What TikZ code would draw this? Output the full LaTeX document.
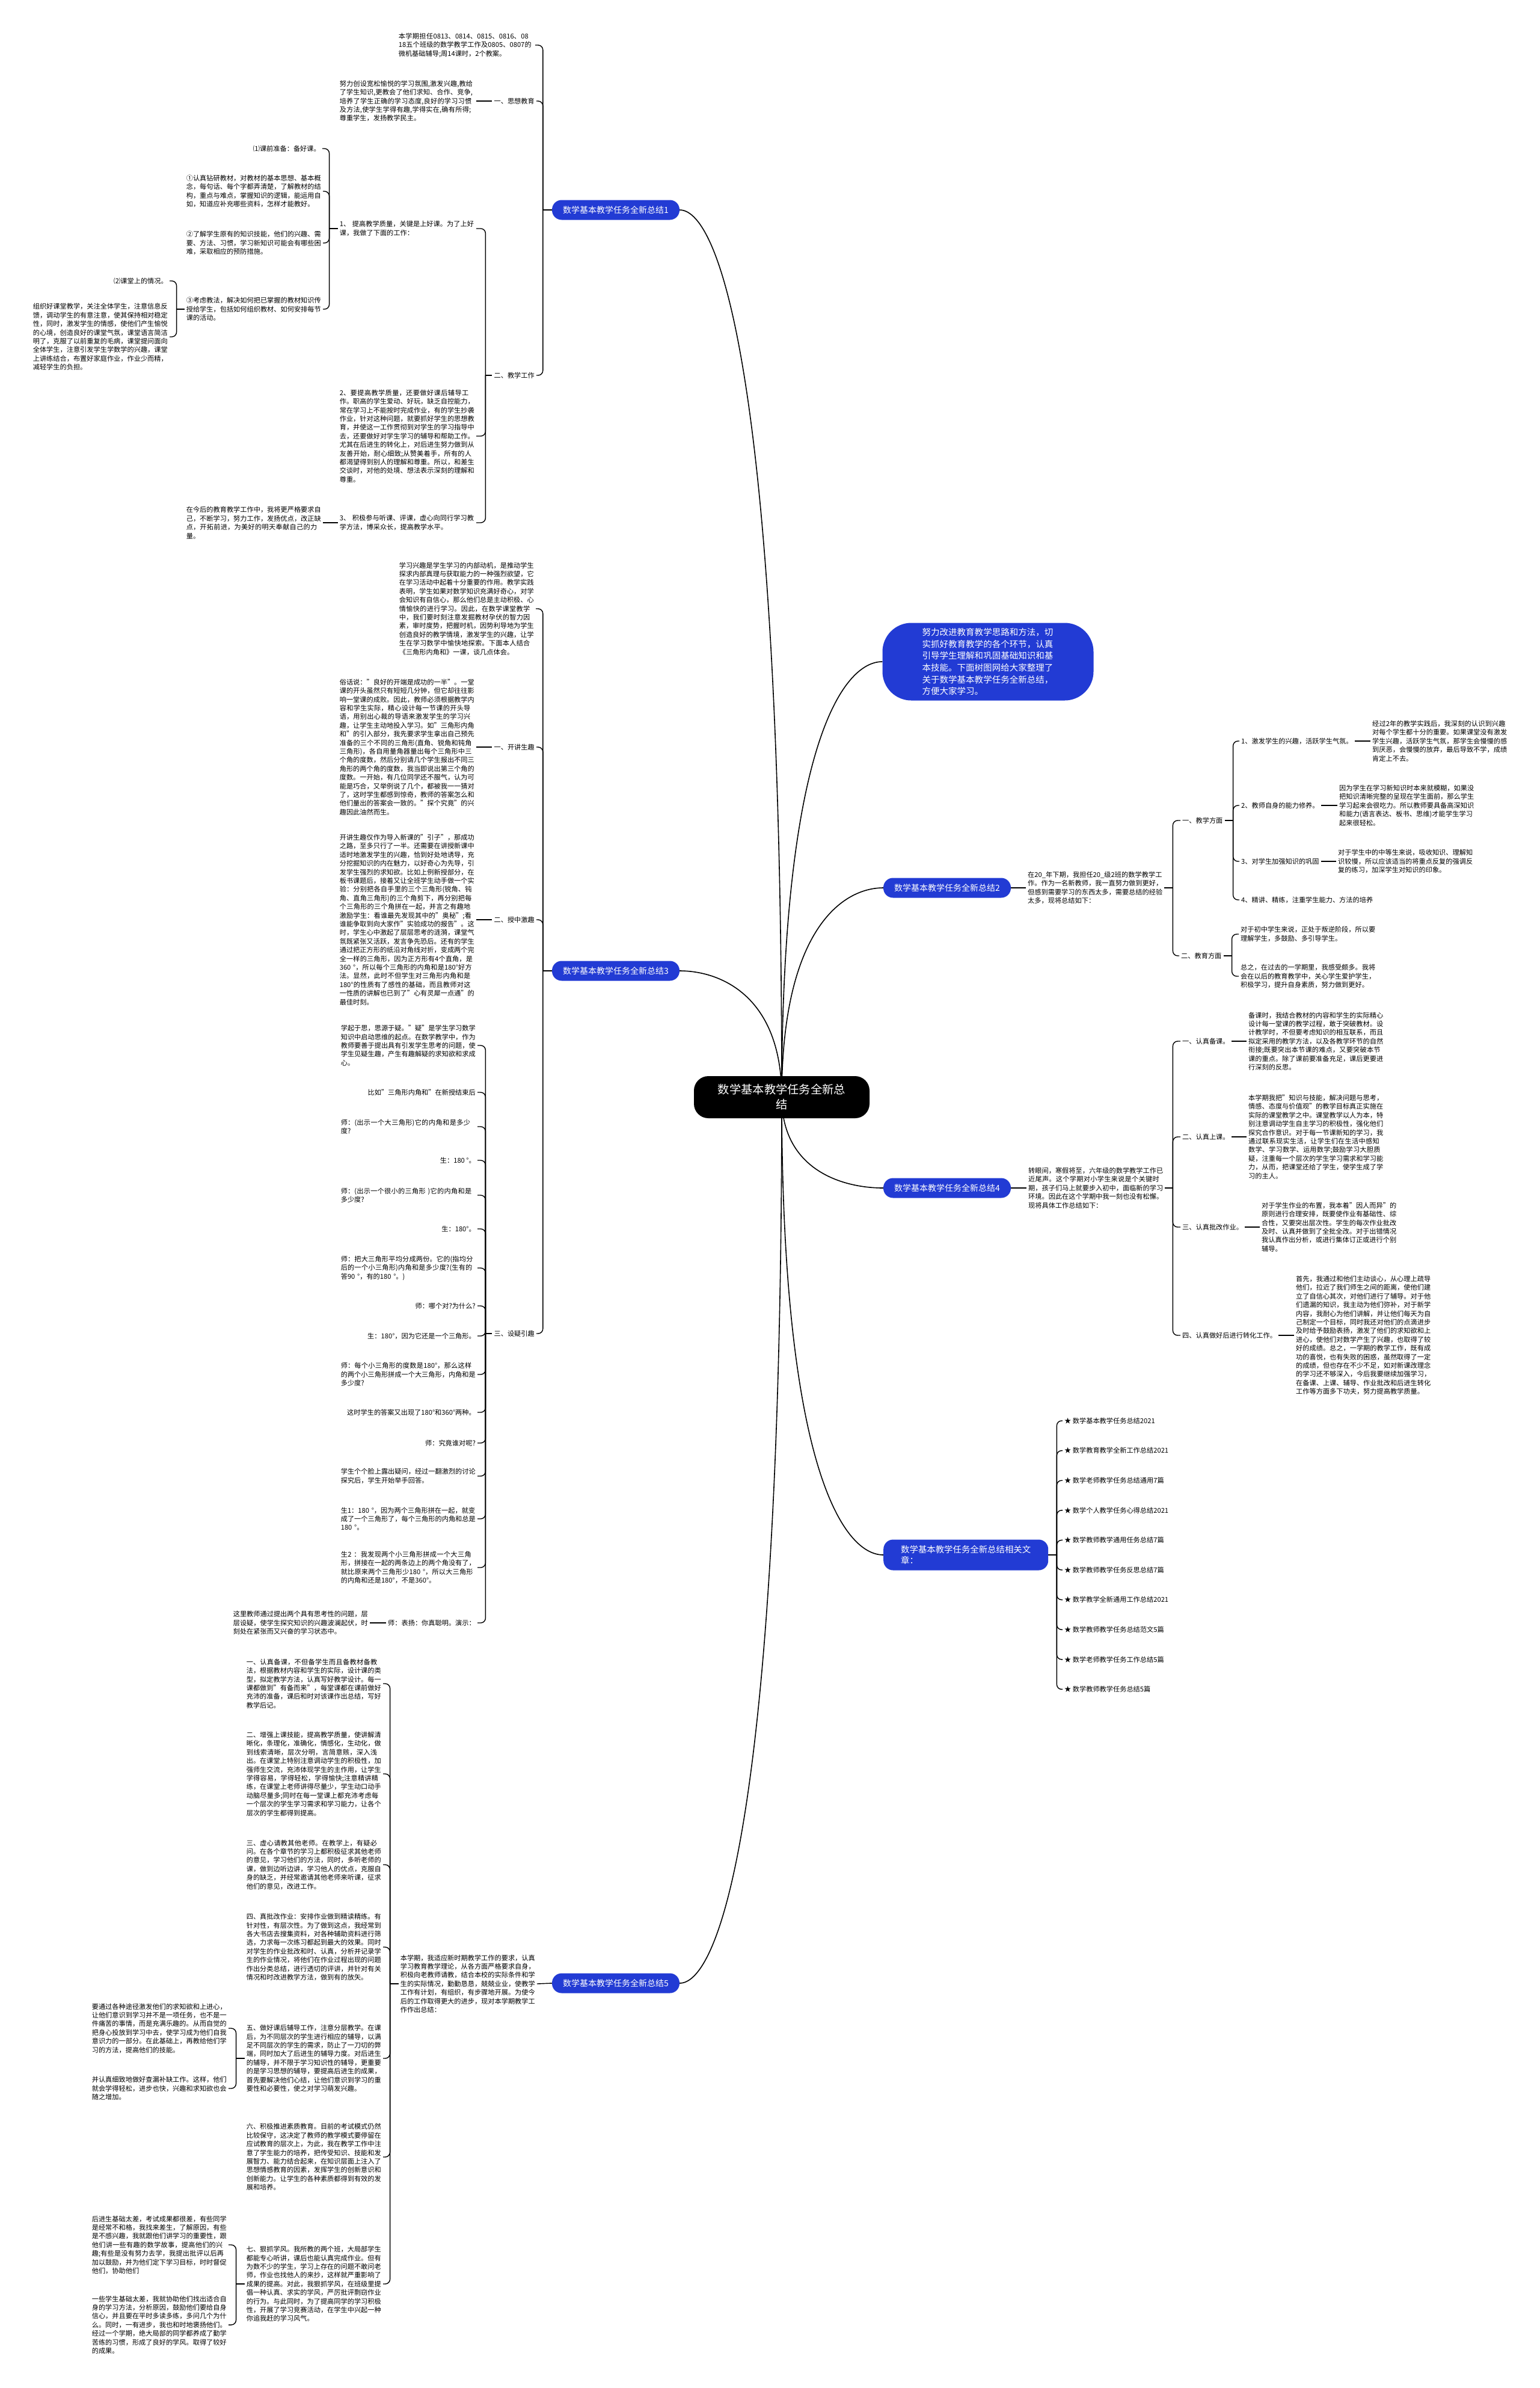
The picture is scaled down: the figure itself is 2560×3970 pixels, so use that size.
\documentclass[tikz,border=0pt]{standalone}
\usepackage{fontspec}
\setmainfont{Noto Sans CJK SC}
\XeTeXlinebreaklocale "zh"
\XeTeXlinebreakskip=0pt plus 1pt
\usetikzlibrary{backgrounds}
\definecolor{mapblue}{RGB}{34,59,212}
\newcommand\mapbody{\fontsize{11.2}{14.4}\selectfont}
\tikzset{
  % the central topic
  hub/.style    = {fill=black, text=white, rounded corners=24pt, minimum width=292pt, minimum height=70pt, align=center, font=\fontsize{19.3}{25}\selectfont},
  % a first-level summary node
  branch/.style = {fill=mapblue, text=white, rounded corners=16pt, minimum width=212pt, minimum height=33pt, inner sep=0pt, font=\fontsize{14}{17}\selectfont},
  % the blue introduction box
  note/.style   = {fill=mapblue, text=white, rounded corners=48pt, text width=219pt, inner xsep=66pt, minimum height=129pt, align=left, font=\fontsize{14.5}{19.7}\selectfont},
  % a block of running text
  para/.style   = {text width=224pt, align=left, inner xsep=3pt, inner ysep=1pt, font=\mapbody},
  % a short one-line item
  tag/.style    = {inner xsep=3pt, inner ysep=1pt, font=\mapbody},
  % connectors
  trunk/.style  = {line width=1.6pt},
  link/.style   = {line width=1.4pt, rounded corners=8pt},
}

\begin{document}
\begin{tikzpicture}[x=1pt,y=-1pt]
\useasboundingbox (0,0) rectangle (2560,3970);

% centre and intro
\node[hub] (hub) at (1300,1824) {数学基本教学任务全新总\\结};
\node[note] (intro) at (1643,1100) {努力改进教育教学思路和方法，切实抓好教育教学的各个环节，认真引导学生理解和巩固基础知识和基本技能。下面树图网给大家整理了关于数学基本教学任务全新总结，方便大家学习。};

% ---- summary 1 ----
\node[branch] (s1) at (1024,349) {数学基本教学任务全新总结1};
\node[para,anchor=east] (n1a) at (890,75) {本学期担任0813、0814、0815、0816、08\allowbreak 18五个班级的数学教学工作及0805、0807的微机基础辅导;周14课时，2个教案。};
\node[tag,anchor=east] (n1b) at (892,168) {一、思想教育};
\node[para,anchor=east] (n1b1) at (792,168) {努力创设宽松愉悦的学习氛围,激发兴趣,教给了学生知识,更教会了他们求知、合作、竞争,培养了学生正确的学习态度,良好的学习习惯及方法,使学生学得有趣,学得实在,确有所得;尊重学生，发扬教学民主。};
\node[tag,anchor=east] (n1c) at (892,624) {二、教学工作};
\node[para,anchor=east] (n1c1) at (792,380) {1、 提高教学质量，关键是上好课。为了上好课，我做了下面的工作：};
\node[tag,anchor=east] (n1c1a) at (536,247) {⑴课前准备：备好课。};
\node[para,anchor=east] (n1c1b) at (537,318) {①认真钻研教材，对教材的基本思想、基本概念，每句话、每个字都弄清楚，了解教材的结构，重点与难点，掌握知识的逻辑，能运用自如，知道应补充哪些资料，怎样才能教好。};
\node[para,anchor=east] (n1c1c) at (537,404) {②了解学生原有的知识技能，他们的兴趣、需要、方法、习惯，学习新知识可能会有哪些困难，采取相应的预防措施。};
\node[para,anchor=east] (n1c1d) at (537,514) {③考虑教法，解决如何把已掌握的教材知识传授给学生，包括如何组织教材、如何安排每节课的活动。};
\node[tag,anchor=east] (n1c1d1) at (282,467) {⑵课堂上的情况。};
\node[para,anchor=east] (n1c1d2) at (282,560) {组织好课堂教学，关注全体学生，注意信息反馈，调动学生的有意注意，使其保持相对稳定性，同时，激发学生的情感，使他们产生愉悦的心境，创造良好的课堂气氛，课堂语言简洁明了，克服了以前重复的毛病，课堂提问面向全体学生，注意引发学生学数学的兴趣，课堂上讲练结合，布置好家庭作业，作业少而精，减轻学生的负担。};
\node[para,anchor=east] (n1c2) at (792,725) {2、要提高教学质量，还要做好课后辅导工作。职高的学生爱动、好玩，缺乏自控能力，常在学习上不能按时完成作业，有的学生抄袭作业，针对这种问题，就要抓好学生的思想教育，并使这一工作贯彻到对学生的学习指导中去，还要做好对学生学习的辅导和帮助工作。尤其在后进生的转化上，对后进生努力做到从友善开始，耐心细致;从赞美着手，所有的人都渴望得到别人的理解和尊重。所以，和差生交谈时，对他的处境、想法表示深刻的理解和尊重。};
\node[para,anchor=east] (n1c3) at (792,869) {3、 积极参与听课、评课，虚心向同行学习教学方法，博采众长，提高教学水平。};
\node[para,anchor=east] (n1c3a) at (537,869) {在今后的教育教学工作中，我将更严格要求自己，不断学习，努力工作，发扬优点，改正缺点，开拓前进，为美好的明天奉献自己的力量。};

% ---- summary 3 ----
\node[branch] (s3) at (1024,1614) {数学基本教学任务全新总结3};
\node[para,anchor=east] (n3a) at (891,1012) {学习兴趣是学生学习的内部动机，是推动学生探求内部真理与获取能力的一种强烈欲望，它在学习活动中起着十分重要的作用。教学实践表明，学生如果对数学知识充满好奇心，对学会知识有自信心，那么他们总是主动积极、心情愉快的进行学习。因此，在数学课堂教学中，我们要时刻注意发掘教材孕伏的智力因素，审时度势，把握时机，因势利导地为学生创造良好的教学情境，激发学生的兴趣，让学生在学习数学中愉快地探索。下面本人结合《三角形内角和》一课，谈几点体会。};
\node[tag,anchor=east] (n3b) at (892,1242) {一、开讲生趣};
\node[para,anchor=east] (n3b1) at (792,1242) {俗话说："良好的开端是成功的一半"。一堂课的开头虽然只有短短几分钟，但它却往往影响一堂课的成败。因此，教师必须根据教学内容和学生实际，精心设计每一节课的开头导语，用别出心裁的导语来激发学生的学习兴趣，让学生主动地投入学习。如"三角形内角和"的引入部分，我先要求学生拿出自己预先准备的三个不同的三角形(直角、锐角和钝角三角形)，各自用量角器量出每个三角形中三个角的度数，然后分别请几个学生报出不同三角形的两个角的度数，我当即说出第三个角的度数。一开始，有几位同学还不服气，认为可能是巧合，又举例说了几个，都被我一一猜对了，这时学生都感到惊奇，教师的答案怎么和他们量出的答案会一致的。"探个究竟"的兴趣因此油然而生。};
\node[tag,anchor=east] (n3c) at (892,1529) {二、授中激趣};
\node[para,anchor=east] (n3c1) at (792,1529) {开讲生趣仅作为导入新课的"引子"，那成功之路，至多只行了一半。还需要在讲授新课中适时地激发学生的兴趣，恰到好处地诱导，充分挖掘知识的内在魅力，以好奇心为先导，引发学生强烈的求知欲。比如上例新授部分，在板书课题后，接着又让全班学生动手做一个实验：分别把各自手里的三个三角形(锐角、钝角、直角三角形)的三个角剪下，再分别把每个三角形的三个角拼在一起，并言之有趣地激励学生：看谁最先发现其中的"奥秘";看谁能争取到向大家作"实验成功的报告"。这时，学生心中激起了层层思考的涟漪，课堂气氛既紧张又活跃，发言争先恐后。还有的学生通过把正方形的纸沿对角线对折，变成两个完全一样的三角形，因为正方形有4个直角，是360 °，所以每个三角形的内角和是180°好方法。显然，此时不但学生对三角形内角和是180°的性质有了感性的基础，而且教师对这一性质的讲解也已到了"心有灵犀一点通"的最佳时刻。};
\node[tag,anchor=east] (n3d) at (892,2217) {三、设疑引趣};
\node[para,anchor=east] (d1) at (794,1738) {学起于思，思源于疑。"疑"是学生学习数学知识中启动思维的起点。在数学教学中，作为教师要善于提出具有引发学生思考的问题，使学生见疑生趣，产生有趣解疑的求知欲和求成心。};
\node[tag,anchor=east] (d2) at (794,1816) {比如"三角形内角和"在新授结束后};
\node[para,anchor=east] (d3) at (794,1873) {师：(出示一个大三角形)它的内角和是多少度?};
\node[tag,anchor=east] (d4) at (794,1929) {生：180 °。};
\node[para,anchor=east] (d5) at (794,1987) {师：(出示一个很小的三角形 )它的内角和是多少度?};
\node[tag,anchor=east] (d6) at (794,2043) {生：180°。};
\node[para,anchor=east] (d7) at (794,2108) {师：把大三角形平均分成两份。它的(指均分后的一个小三角形)内角和是多少度?(生有的答90 °，有的180 °。)};
\node[tag,anchor=east] (d8) at (794,2171) {师：哪个对?为什么?};
\node[tag,anchor=east] (d9) at (794,2221) {生：180°，因为它还是一个三角形。};
\node[para,anchor=east] (d10) at (794,2285) {师：每个小三角形的度数是180°，那么这样的两个小三角形拼成一个大三角形，内角和是多少度?};
\node[tag,anchor=east] (d11) at (794,2348) {这时学生的答案又出现了180°和360°两种。};
\node[tag,anchor=east] (d12) at (794,2399) {师：究竟谁对呢?};
\node[para,anchor=east] (d13) at (794,2454) {学生个个脸上露出疑问，经过一翻激烈的讨论探究后，学生开始举手回答。};
\node[para,anchor=east] (d14) at (794,2525) {生1：180 °，因为两个三角形拼在一起，就变成了一个三角形了，每个三角形的内角和总是180 °。};
\node[para,anchor=east] (d15) at (794,2606) {生2 ：我发现两个小三角形拼成一个大三角形，拼接在一起的两条边上的两个角没有了，就比原来两个三角形少180 °，所以大三角形的内角和还是180°，不是360°。};
\node[tag,anchor=east] (d16) at (794,2698) {师：表扬：你真聪明。演示：};
\node[para,anchor=east] (d16a) at (615,2698) {这里教师通过提出两个具有思考性的问题，层层设疑，使学生探究知识的兴趣波澜起伏，时刻处在紧张而又兴奋的学习状态中。};

% ---- summary 5 ----
\node[branch] (s5) at (1024,3297) {数学基本教学任务全新总结5};
\node[para,anchor=east] (n5a) at (893,3298) {本学期，我适应新时期教学工作的要求，认真学习教育教学理论，从各方面严格要求自身，积极向老教师请教，结合本校的实际条件和学生的实际情况，勤勤恳恳，兢兢业业，使教学工作有计划，有组织，有步骤地开展。为使今后的工作取得更大的进步，现对本学期教学工作作出总结：};
\node[para,anchor=east] (e1) at (637,2799) {一、认真备课，不但备学生而且备教材备教法，根据教材内容和学生的实际，设计课的类型，拟定教学方法，认真写好教学设计。每一课都做到"有备而来"，每堂课都在课前做好充沛的准备，课后和时对该课作出总结，写好教学后记。};
\node[para,anchor=east] (e2) at (637,2949) {二、增强上课技能，提高教学质量，使讲解清晰化，条理化，准确化，情感化，生动化，做到线索清晰，层次分明，言简意赅，深入浅出。在课堂上特别注意调动学生的积极性，加强师生交流，充沛体现学生的主作用，让学生学得容易，学得轻松，学得愉快;注意精讲精练，在课堂上老师讲得尽量少，学生动口动手动脑尽量多;同时在每一堂课上都充沛考虑每一个层次的学生学习需求和学习能力，让各个层次的学生都得到提高。};
\node[para,anchor=east] (e3) at (637,3100) {三、虚心请教其他老师。在教学上，有疑必问。在各个章节的学习上都积极征求其他老师的意见，学习他们的方法，同时，多听老师的课，做到边听边讲，学习他人的优点，克服自身的缺乏，并经常邀请其他老师来听课，征求他们的意见，改进工作。};
\node[para,anchor=east] (e4) at (637,3237) {四、真批改作业：安排作业做到精读精练。有针对性，有层次性。为了做到这点，我经常到各大书店去搜集资料，对各种辅助资料进行筛选，力求每一次练习都起到最大的效果。同时对学生的作业批改和时、认真，分析并记录学生的作业情况，将他们在作业过程出现的问题作出分类总结，进行透切的评讲，并针对有关情况和时改进教学方法，做到有的放矢。};
\node[para,anchor=east] (e5) at (637,3422) {五、做好课后辅导工作，注意分层教学。在课后，为不同层次的学生进行相应的辅导，以满足不同层次的学生的需求，防止了一刀切的弊端，同时加大了后进生的辅导力度。对后进生的辅导，并不限于学习知识性的辅导，更重要的是学习思想的辅导，要提高后进生的成果，首先要解决他们心结，让他们意识到学习的重要性和必要性，使之对学习萌发兴趣。};
\node[para,anchor=east] (e5a) at (380,3372) {要通过各种途径激发他们的求知欲和上进心，让他们意识到学习并不是一项任务，也不是一件痛苦的事情，而是充满乐趣的。从而自觉的把身心投放到学习中去，使学习成为他们自我意识力的一部分。在此基础上，再教给他们学习的方法，提高他们的技能。};
\node[para,anchor=east] (e5b) at (380,3472) {并认真细致地做好查漏补缺工作。这样，他们就会学得轻松，进步也快，兴趣和求知欲也会随之增加。};
\node[para,anchor=east] (e6) at (637,3586) {六、积极推进素质教育。目前的考试模式仍然比较保守，这决定了教师的教学模式要停留在应试教育的层次上，为此，我在教学工作中注意了学生能力的培养，把传受知识、技能和发展智力、能力结合起来，在知识层面上注入了思想情感教育的因素，发挥学生的创新意识和创新能力。让学生的各种素质都得到有效的发展和培养。};
\node[para,anchor=east] (e7) at (637,3797) {七、狠抓学风。我所教的两个班，大局部学生都能专心听讲，课后也能认真完成作业。但有为数不少的学生，学习上存在的问题不敢问老师，作业也找他人的来抄，这样就严重影响了成果的提高。对此，我狠抓学风，在班级里提倡一种认真、求实的学风，严厉批评剽窃作业的行为。与此同时，为了提高同学的学习积极性，开展了学习竞赛活动，在学生中兴起一种你追我赶的学习风气。};
\node[para,anchor=east] (e7a) at (380,3732) {后进生基础太差，考试成果都很差，有些同学是经常不和格，我找来差生，了解原因，有些是不感兴趣，我就跟他们讲学习的重要性，跟他们讲一些有趣的数学故事，提高他们的兴趣;有些是没有努力去学，我提出批评以后再加以鼓励，并为他们定下学习目标，时时督促他们，协助他们};
\node[para,anchor=east] (e7b) at (380,3865) {一些学生基础太差，我就协助他们找出适合自身的学习方法，分析原因，鼓励他们要给自身信心，并且要在平时多读多练，多问几个为什么。同时，一有进步，我也和时地褒扬他们。经过一个学期，绝大局部的同学都养成了勤学苦练的习惯，形成了良好的学风。取得了较好的成果。};

% ---- summary 2 ----
\node[branch] (s2) at (1575,1476) {数学基本教学任务全新总结2};
\node[para,anchor=west] (n2a) at (1706,1476) {在20\_年下期，我担任20\_级2班的数学教学工作。作为一名新教师，我一直努力做到更好，但感到需要学习的东西太多，需要总结的经验太多，现将总结如下：};
\node[tag,anchor=west] (n2b) at (1963,1364) {一、教学方面};
\node[tag,anchor=west] (n2b1) at (2061,1232) {1、激发学生的兴趣，活跃学生气氛。};
\node[para,anchor=west] (n2b1a) at (2279,1232) {经过2年的教学实践后，我深刻的认识到兴趣对每个学生都十分的重要。如果课堂没有激发学生兴趣，活跃学生气氛，那学生会慢慢的感到厌恶，会慢慢的放弃，最后导致不学，成绩肯定上不去。};
\node[tag,anchor=west] (n2b2) at (2061,1339) {2、教师自身的能力修养。};
\node[para,anchor=west] (n2b2a) at (2224,1339) {因为学生在学习新知识时本来就模糊，如果没把知识清晰完整的呈现在学生面前，那么学生学习起来会很吃力。所以教师要具备高深知识和能力(语言表达、板书、思维)才能学生学习起来很轻松。};
\node[tag,anchor=west] (n2b3) at (2061,1432) {3、对学生加强知识的巩固};
\node[para,anchor=west] (n2b3a) at (2222,1432) {对于学生中的中等生来说，吸收知识、理解知识较慢，所以应该适当的将重点反复的强调反复的练习，加深学生对知识的印象。};
\node[tag,anchor=west] (n2b4) at (2061,1496) {4、精讲、精练，注重学生能力、方法的培养};
\node[tag,anchor=west] (n2c) at (1961,1589) {二、教育方面};
\node[para,anchor=west] (n2c1) at (2060,1553) {对于初中学生来说，正处于叛逆阶段，所以要理解学生，多鼓励、多引导学生。};
\node[para,anchor=west] (n2c2) at (2060,1623) {总之，在过去的一学期里，我感受颇多。我将会在以后的教育教学中，关心学生爱护学生，积极学习，提升自身素质，努力做到更好。};

% ---- summary 4 ----
\node[branch] (s4) at (1575,1975) {数学基本教学任务全新总结4};
\node[para,anchor=west] (n4a) at (1707,1975) {转眼间，寒假将至，六年级的数学教学工作已近尾声。这个学期对小学生来说是个关键时期，孩子们马上就要步入初中，面临新的学习环境。因此在这个学期中我一刻也没有松懈。现将具体工作总结如下：};
\node[tag,anchor=west] (n4b) at (1963,1731) {一、认真备课。};
\node[para,anchor=west] (n4b1) at (2073,1731) {备课时，我结合教材的内容和学生的实际精心设计每一堂课的教学过程，敢于突破教材。设计教学时，不但要考虑知识的相互联系，而且拟定采用的教学方法，以及各教学环节的自然衔接;既要突出本节课的难点，又要突破本节课的重点。除了课前要准备充足，课后更要进行深刻的反思。};
\node[tag,anchor=west] (n4c) at (1963,1890) {二、认真上课。};
\node[para,anchor=west] (n4c1) at (2073,1890) {本学期我把"知识与技能，解决问题与思考，情感、态度与价值观"的教学目标真正实施在实际的课堂教学之中。课堂教学以人为本，特别注意调动学生自主学习的积极性，强化他们探究合作意识。对于每一节课新知的学习，我通过联系现实生活，让学生们在生活中感知数学、学习数学、运用数学;鼓励学习大胆质疑，注重每一个层次的学生学习需求和学习能力，从而，把课堂还给了学生，使学生成了学习的主人。};
\node[tag,anchor=west] (n4d) at (1963,2040) {三、认真批改作业。};
\node[para,anchor=west] (n4d1) at (2095,2040) {对于学生作业的布置，我本着"因人而异"的原则进行合理安排，既要使作业有基础性、综合性，又要突出层次性。学生的每次作业批改及时、认真并做到了全批全改。对于出错情况我认真作出分析，或进行集体订正或进行个别辅导。};
\node[tag,anchor=west] (n4e) at (1963,2220) {四、认真做好后进行转化工作。};
\node[para,anchor=west] (n4e1) at (2152,2220) {首先，我通过和他们主动谈心，从心理上疏导他们，拉近了我们师生之间的距离，使他们建立了自信心其次，对他们进行了辅导。对于他们遗漏的知识，我主动为他们弥补，对于新学内容，我耐心为他们讲解，并让他们每天为自己制定一个目标，同时我还对他们的点滴进步及时给予鼓励表扬，激发了他们的求知欲和上进心，使他们对数学产生了兴趣，也取得了较好的成绩。总之，一学期的教学工作，既有成功的喜悦，也有失败的困惑，虽然取得了一定的成绩，但也存在不少不足，如对新课改理念的学习还不够深入，今后我要继续加强学习，在备课、上课、辅导、作业批改和后进生转化工作等方面多下功夫，努力提高教学质量。};

% ---- related articles ----
\node[branch,anchor=west,minimum width=274pt,minimum height=51pt,inner xsep=26pt,align=left,font=\fontsize{14.4}{18.4}\selectfont] (rel) at (1469,2585) {数学基本教学任务全新总结相关文\\章：};
\foreach \i/\t in {0/数学基本教学任务总结2021, 1/数学教育教学全新工作总结2021, 2/数学老师教学任务总结通用7篇, 3/数学个人教学任务心得总结2021, 4/数学教师教学通用任务总结7篇, 5/数学教师教学任务反思总结7篇, 6/数学教学全新通用工作总结2021, 7/数学教师教学任务总结范文5篇, 8/数学老师教学任务工作总结5篇, 9/数学教师教学任务总结5篇}
  \node[tag,anchor=west] (r\i) at (1767,{2362+49.6*\i}) {★ \t};

\begin{pgfonlayer}{background}
  \fill[white] (0,0) rectangle (2560,3970);
  % from the centre out
  \draw[trunk] (hub.center) .. controls +(0,-1180) and +(68,0) .. (s1.east);
  \draw[trunk] (hub.center) .. controls +(0,-168) and +(68,0) .. (s3.east);
  \draw[trunk] (hub.center) .. controls +(0,1178) and +(68,0) .. (s5.east);
  \draw[trunk] (hub.center) .. controls +(0,-579) and +(-67,0) .. (intro.west);
  \draw[trunk] (hub.center) .. controls +(0,-278) and +(-68,0) .. (s2.west);
  \draw[trunk] (hub.center) .. controls +(0,121) and +(-68,0) .. (s4.west);
  \draw[trunk] (hub.center) .. controls +(0,609) and +(-68,0) .. (rel.west);
  % summary 1
  \draw[link] (s1.west) -- ++(-15,0) coordinate (j1);
  \foreach \c in {n1a,n1b,n1c} \draw[link] (j1) |- (\c.east);
  \draw[link] (n1b.west) -- (n1b1.east);
  \draw[link] (n1c.west) -- ++(-11,0) coordinate (j1c);
  \foreach \c in {n1c1,n1c2,n1c3} \draw[link] (j1c) |- (\c.east);
  \draw[link] (n1c1.west) -- ++(-14,0) coordinate (j1c1);
  \foreach \c in {n1c1a,n1c1b,n1c1c,n1c1d} \draw[link] (j1c1) |- (\c.east);
  \draw[link] (n1c1d.west) -- ++(-13,0) coordinate (j1c1d);
  \foreach \c in {n1c1d1,n1c1d2} \draw[link] (j1c1d) |- (\c.east);
  \draw[link] (n1c3.west) -- (n1c3a.east);
  % summary 3
  \draw[link] (s3.west) -- ++(-15,0) coordinate (j3);
  \foreach \c in {n3a,n3b,n3c,n3d} \draw[link] (j3) |- (\c.east);
  \draw[link] (n3b.west) -- (n3b1.east);
  \draw[link] (n3c.west) -- (n3c1.east);
  \draw[link] (n3d.west) -- ++(-11,0) coordinate (j3d);
  \foreach \c in {d1,d2,d3,d4,d5,d6,d7,d8,d9,d10,d11,d12,d13,d14,d15,d16} \draw[link] (j3d) |- (\c.east);
  \draw[link] (d16.west) -- (d16a.east);
  % summary 5
  \draw[link] (s5.west) -- (n5a.east);
  \draw[link] (n5a.west) -- ++(-14,0) coordinate (j5);
  \foreach \c in {e1,e2,e3,e4,e5,e6,e7} \draw[link] (j5) |- (\c.east);
  \draw[link] (e5.west) -- ++(-14,0) coordinate (j5e);
  \foreach \c in {e5a,e5b} \draw[link] (j5e) |- (\c.east);
  \draw[link] (e7.west) -- ++(-14,0) coordinate (j7e);
  \foreach \c in {e7a,e7b} \draw[link] (j7e) |- (\c.east);
  % summary 2
  \draw[link] (s2.east) -- (n2a.west);
  \draw[link] (n2a.east) -- ++(14,0) coordinate (j2);
  \foreach \c in {n2b,n2c} \draw[link] (j2) |- (\c.west);
  \draw[link] (n2b.east) -- ++(14,0) coordinate (j2b);
  \foreach \c in {n2b1,n2b2,n2b3,n2b4} \draw[link] (j2b) |- (\c.west);
  \draw[link] (n2b1.east) -- (n2b1a.west);
  \draw[link] (n2b2.east) -- (n2b2a.west);
  \draw[link] (n2b3.east) -- (n2b3a.west);
  \draw[link] (n2c.east) -- ++(14,0) coordinate (j2c);
  \foreach \c in {n2c1,n2c2} \draw[link] (j2c) |- (\c.west);
  % summary 4
  \draw[link] (s4.east) -- (n4a.west);
  \draw[link] (n4a.east) -- ++(13,0) coordinate (j4);
  \foreach \c in {n4b,n4c,n4d,n4e} \draw[link] (j4) |- (\c.west);
  \draw[link] (n4b.east) -- (n4b1.west);
  \draw[link] (n4c.east) -- (n4c1.west);
  \draw[link] (n4d.east) -- (n4d1.west);
  \draw[link] (n4e.east) -- (n4e1.west);
  % related articles
  \draw[link] (rel.east) -- ++(14,0) coordinate (jr);
  \foreach \i in {0,...,9} \draw[link] (jr) |- (r\i.west);
\end{pgfonlayer}
\end{tikzpicture}
\end{document}
